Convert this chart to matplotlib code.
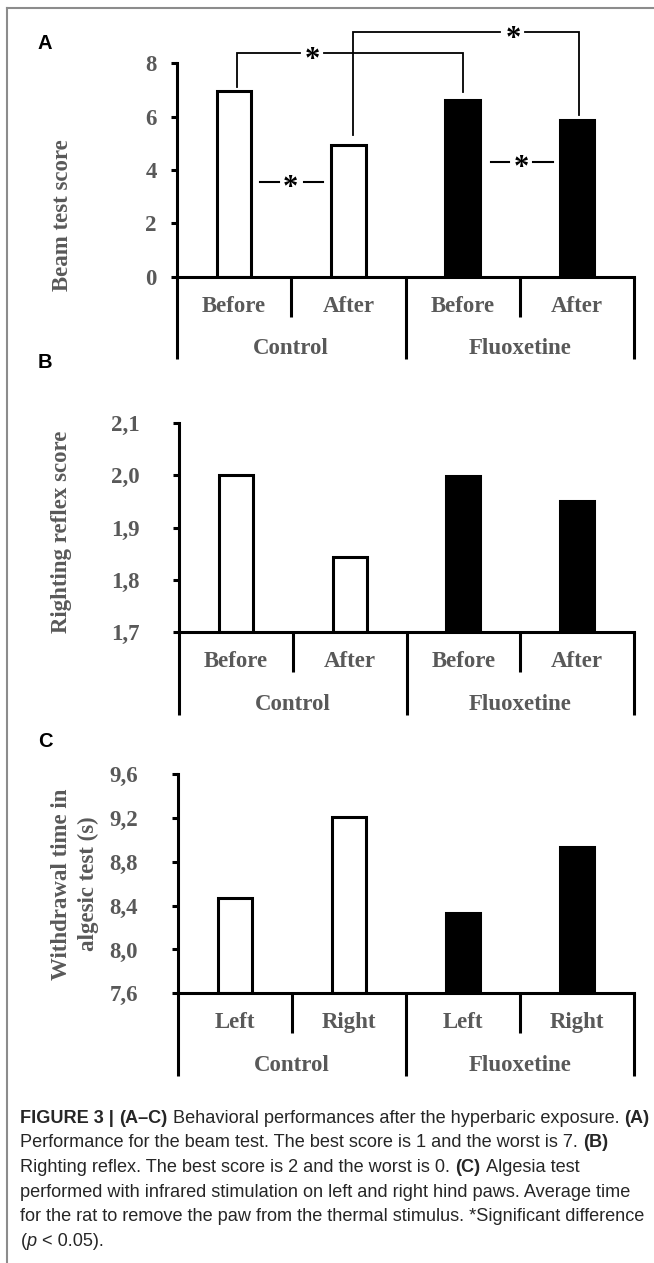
import matplotlib
matplotlib.use('Agg')
import matplotlib.pyplot as plt
from matplotlib.lines import Line2D
import matplotlib.transforms as mtransforms

# ---------------- data ----------------
groups = ['Control', 'Fluoxetine']

beam_labels = ['Before', 'After', 'Before', 'After']
beam_values = [6.96, 4.93, 6.62, 5.86]
beam_ticks = [0, 2, 4, 6, 8]
beam_ticklabels = ['0', '2', '4', '6', '8']

righting_labels = ['Before', 'After', 'Before', 'After']
righting_values = [2.00, 1.843, 1.999, 1.95]
righting_ticks = [1.7, 1.8, 1.9, 2.0, 2.1]
righting_ticklabels = ['1,7', '1,8', '1,9', '2,0', '2,1']

algesic_labels = ['Left', 'Right', 'Left', 'Right']
algesic_values = [8.47, 9.21, 8.33, 8.94]
algesic_ticks = [7.6, 8.0, 8.4, 8.8, 9.2, 9.6]
algesic_ticklabels = ['7,6', '8,0', '8,4', '8,8', '9,2', '9,6']

bar_colors = ['white', 'white', 'black', 'black']

# significance annotations (panel A), in data units
# (x_left, y_left_bottom, x_right, y_right_bottom, y_top, star_x, gap_left, gap_right)
brackets = [
    (0.024, 7.12, 2.007, 6.94, 8.38, 0.685, 0.578, 0.79),
    (1.044, 5.31, 3.02, 6.06, 9.16, 2.44, 2.33, 2.547),
]
# (y, seg1_start, seg1_end, seg2_start, seg2_end, star_x)
dashes = [
    (3.56, 0.228, 0.394, 0.613, 0.782, 0.496),
    (4.31, 2.247, 2.41, 2.62, 2.795, 2.518),
]

caption_lines = [
    [("FIGURE 3 |", 'bold', 'normal'), (" (A–C)", 'bold', 'normal'),
     (" Behavioral performances after the hyperbaric exposure. ", 'normal', 'normal'),
     ("(A)", 'bold', 'normal')],
    [("Performance for the beam test. The best score is 1 and the worst is 7. ", 'normal', 'normal'),
     ("(B)", 'bold', 'normal')],
    [("Righting reflex. The best score is 2 and the worst is 0. ", 'normal', 'normal'),
     ("(C)", 'bold', 'normal'), (" Algesia test", 'normal', 'normal')],
    [("performed with infrared stimulation on left and right hind paws. Average time", 'normal', 'normal')],
    [("for the rat to remove the paw from the thermal stimulus. *Significant difference", 'normal', 'normal')],
    [("(", 'normal', 'normal'), ("p", 'normal', 'italic'), (" < 0.05).", 'normal', 'normal')],
]

# ---------------- layout ----------------
W, H, DPI = 654, 1263, 100
fig = plt.figure(figsize=(W / DPI, H / DPI), dpi=DPI)
fig.patch.set_facecolor('white')

SERIF = ['Liberation Serif', 'DejaVu Serif']
SANS = ['Liberation Sans', 'DejaVu Sans']
CAP_FONT = ['Liberation Sans Narrow', 'Liberation Sans', 'DejaVu Sans']
GRAY = '#595959'
FS = 16.5
LW = 2.2


def fx(xpx):
    return xpx / W


def fy(ypx):
    return 1 - ypx / H


def panel(rect_px, values, labels, ticks, ticklabels, ylim, tickpad_px):
    left, top, right, bottom = rect_px
    ax = fig.add_axes([fx(left), fy(bottom), (right - left) / W, (bottom - top) / H])
    xs = list(range(len(values)))
    ax.bar(xs, [v - ylim[0] for v in values], bottom=ylim[0], width=0.3,
           color=bar_colors, edgecolor='black', linewidth=LW, zorder=2)
    ax.set_xlim(-0.5, len(values) - 0.5)
    ax.set_ylim(*ylim)
    for s in ['top', 'right']:
        ax.spines[s].set_visible(False)
    for s in ['left', 'bottom']:
        ax.spines[s].set_linewidth(LW)
        ax.spines[s].set_color('black')
        ax.spines[s].set_zorder(3)
    ax.set_xticks([])
    ax.set_yticks(ticks)
    ax.set_yticklabels(ticklabels, fontfamily=SERIF, fontweight='bold',
                       fontsize=FS, color=GRAY)
    ax.tick_params(axis='y', direction='out', length=6 * 0.72, width=LW,
                   pad=tickpad_px * 0.72, color='black')
    ax.patch.set_alpha(0)

    trans = mtransforms.blended_transform_factory(ax.transData, fig.transFigure)
    base_y = fy(bottom)
    short_y = fy(bottom + 40)
    long_y = fy(bottom + 82.6)
    seps = [(-0.5, long_y), (0.5, short_y), (1.5, long_y), (2.5, short_y), (3.5, long_y)]
    for xsep, yend in seps:
        ax.add_line(Line2D([xsep, xsep], [base_y, yend], transform=trans,
                           color='black', lw=LW, clip_on=False,
                           solid_capstyle='butt'))
    for i, lab in enumerate(labels):
        ax.text(i, fy(bottom + 35), lab, transform=trans, ha='center', va='baseline',
                fontfamily=SERIF, fontweight='bold', fontsize=FS, color=GRAY)
    for g, lab in enumerate(groups):
        ax.text(0.5 + 2 * g, fy(bottom + 77.6), lab, transform=trans, ha='center',
                va='baseline', fontfamily=SERIF, fontweight='bold', fontsize=FS,
                color=GRAY)
    return ax


def star(ax, x, y):
    ax.annotate('*', xy=(x, y), xytext=(0, -14.5), textcoords='offset pixels',
                ha='center', va='baseline', fontsize=22, fontfamily=SERIF,
                fontweight='bold', color='black', annotation_clip=False)


# Panel A
axA = panel((177, 63.3, 634, 276.7), beam_values, beam_labels, beam_ticks,
            beam_ticklabels, (0, 8), 14)
for xl, ybl, xr, ybr, yt, sx, gl, gr in brackets:
    axA.plot([xl, xl, gl], [ybl, yt, yt], color='black', lw=1.3, clip_on=False,
             solid_joinstyle='miter')
    axA.plot([gr, xr, xr], [yt, yt, ybr], color='black', lw=1.3, clip_on=False,
             solid_joinstyle='miter')
    star(axA, sx, yt)
for y, a0, a1, b0, b1, sx in dashes:
    axA.plot([a0, a1], [y, y], color='black', lw=1.5, clip_on=False)
    axA.plot([b0, b1], [y, y], color='black', lw=1.5, clip_on=False)
    star(axA, sx, y)

# Panel B
axB = panel((179, 422.7, 634, 632.3), righting_values, righting_labels,
            righting_ticks, righting_ticklabels, (1.7, 2.1), 33)

# Panel C
axC = panel((178, 774.3, 634, 993.3), algesic_values, algesic_labels,
            algesic_ticks, algesic_ticklabels, (7.6, 9.6), 34)

# Axis titles
ylab_kw = dict(rotation=90, ha='center', va='center', fontfamily=SERIF,
               fontweight='bold', fontsize=FS, color=GRAY)
fig.text(fx(63), fy(215), 'Beam test score', **ylab_kw)
fig.text(fx(61), fy(531.5), 'Righting reflex score', **ylab_kw)
fig.text(fx(61.7), fy(884), 'Withdrawal time in', **ylab_kw)
fig.text(fx(88.3), fy(884), 'algesic test (s)', **ylab_kw)

# Panel letters
for letter, cy in [('A', 41.7), ('B', 361), ('C', 740)]:
    fig.text(fx(38), fy(cy + 7.0), letter, ha='left', va='baseline',
             fontfamily=SANS, fontweight='bold', fontsize=14.5, color='black')

# Frame
frame_kw = dict(color='#8c8c8c', lw=1.5, transform=fig.transFigure)
fig.add_artist(Line2D([fx(7.3), fx(7.3)], [fy(8), 0], **frame_kw))
fig.add_artist(Line2D([fx(6.6), 1], [fy(8), fy(8)], **frame_kw))

# Caption
renderer = fig.canvas.get_renderer()


def text_width(s, fs, weight, style):
    t = fig.text(0, 0, s, fontsize=fs, fontfamily=CAP_FONT, fontweight=weight,
                 fontstyle=style)
    w = t.get_window_extent(renderer).width
    t.remove()
    return w


base_fs = 12.0
w_ref = text_width(''.join(s for s, _, _ in caption_lines[4]), base_fs, 'normal', 'normal')
cap_fs = base_fs * 627.0 / w_ref
space_w = {}
for wt in ['normal', 'bold']:
    space_w[wt] = (text_width('x x', cap_fs, wt, 'normal')
                   - text_width('xx', cap_fs, wt, 'normal'))

CAP_COLOR = '#262626'
x0 = 20.5
for i, line in enumerate(caption_lines):
    baseline = 1122.6 + 24.7 * i
    x = x0
    for s, wt, st in line:
        lead = len(s) - len(s.lstrip(' '))
        trail = len(s) - len(s.rstrip(' '))
        core = s.strip(' ')
        x += lead * space_w[wt]
        if core:
            fig.text(fx(x), fy(baseline), core, ha='left', va='baseline',
                     fontsize=cap_fs, fontfamily=CAP_FONT, fontweight=wt,
                     fontstyle=st, color=CAP_COLOR)
            x += text_width(core, cap_fs, wt, st)
        x += trail * space_w[wt]

fig.savefig('out.png', dpi=DPI, facecolor='white')
